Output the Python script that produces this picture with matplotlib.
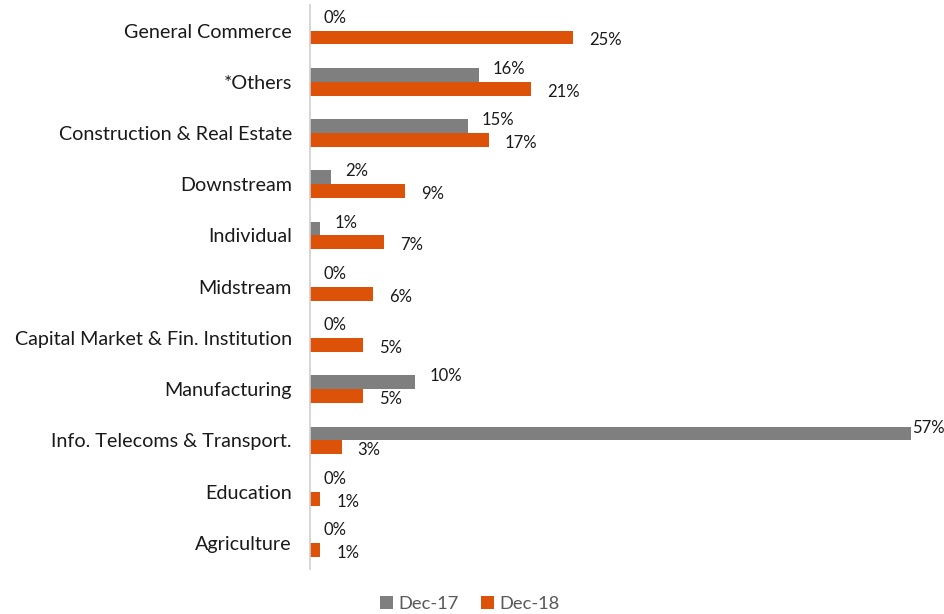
import matplotlib
matplotlib.use("Agg")
import matplotlib.pyplot as plt
import numpy as np
from matplotlib.transforms import offset_copy

categories = [
    "General Commerce", "*Others", "Construction & Real Estate", "Downstream",
    "Individual", "Midstream", "Capital Market & Fin. Institution",
    "Manufacturing", "Info. Telecoms & Transport.", "Education", "Agriculture",
]
dec17 = [0, 16, 15, 2, 1, 0, 0, 10, 57, 0, 0]
dec18 = [25, 21, 17, 9, 7, 6, 5, 5, 3, 1, 1]
series_names = ["Dec-17", "Dec-18"]

GREY = "#7F7F7F"
ORANGE = "#DC5209"
FONT = "Lato"

fig = plt.figure(figsize=(9.45, 6.14), dpi=100)
ax = fig.add_axes([0.328, 0.074, 0.669, 0.918])

n = len(categories)
y = np.arange(n)
h = 0.27
ax.barh(y - h / 2, dec17, height=h, color=GREY, label=series_names[0])
ax.barh(y + h / 2, dec18, height=h, color=ORANGE, label=series_names[1])

ax.set_xlim(0, 60)
ax.set_ylim(n - 0.5, -0.5)
ax.set_yticks(y)
ax.set_yticklabels(categories, fontsize=14.2, family=FONT, color="#1a1a1a")
ax.tick_params(axis="y", length=0, pad=20)
for lbl in ax.get_yticklabels():
    lbl.set_y(lbl.get_position()[1])
ax.set_xticks([])
for s in ["top", "right", "bottom"]:
    ax.spines[s].set_visible(False)
ax.spines["left"].set_color("#D0D0D0")
ax.spines["left"].set_linewidth(1.2)
ax.tick_params(axis="y", pad=13)

vmax = max(dec17)
for i, v in enumerate(dec17):
    dx = 2 if v == vmax else 14
    tr = offset_copy(ax.transData, fig=fig, x=dx, y=6, units="dots")
    ax.text(v, i - h / 2, f"{v}%", transform=tr, ha="left", va="center",
            fontsize=12, family=FONT, color="#1a1a1a")
for i, v in enumerate(dec18):
    tr = offset_copy(ax.transData, fig=fig, x=16, y=-3, units="dots")
    ax.text(v, i + h / 2, f"{v}%", transform=tr, ha="left", va="center",
            fontsize=12, family=FONT, color="#1a1a1a")

leg = fig.legend(loc="center", bbox_to_anchor=(0.497, 0.017), ncol=2, frameon=False,
                 prop={"family": FONT, "size": 13.2}, handlelength=0.7,
                 handleheight=0.7, handletextpad=0.3, columnspacing=1.2)
for t in leg.get_texts():
    t.set_color("#595959")

fig.savefig("out.png", dpi=100)
